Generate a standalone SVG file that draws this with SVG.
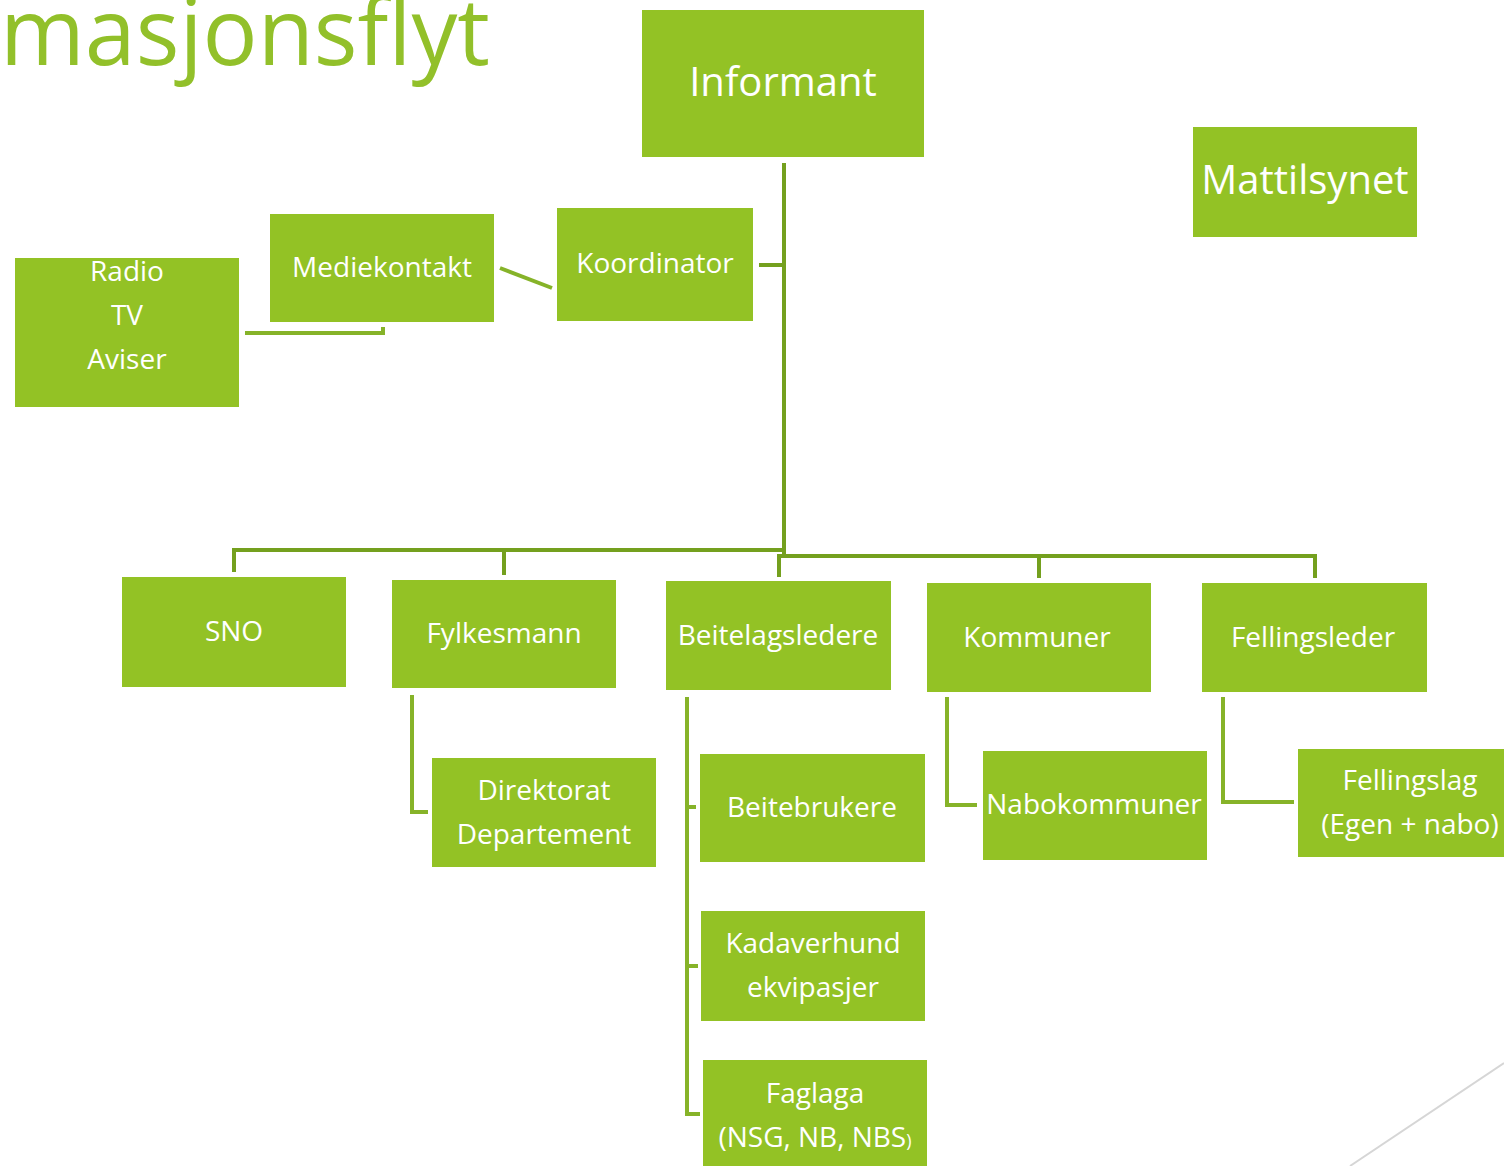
<svg xmlns="http://www.w3.org/2000/svg" width="1504" height="1166" viewBox="0 0 1504 1166">
<style>
.box{fill:#93C225;}
.t{fill:#FFFFFF;font-family:"Open Sans","DejaVu Sans",sans-serif;font-size:28px;text-anchor:middle;}
.tl{fill:#FFFFFF;font-family:"Open Sans","DejaVu Sans",sans-serif;font-size:40px;text-anchor:middle;}
.main{fill:none;stroke:#74A01E;stroke-width:4;}
.sub{fill:none;stroke:#86B329;stroke-width:4;}
</style>
<rect width="1504" height="1166" fill="#FFFFFF"/>
<text x="0" y="65" font-family="'Open Sans','DejaVu Sans',sans-serif" font-size="94" fill="#92C02A" textLength="490" lengthAdjust="spacingAndGlyphs">masjonsflyt</text>
<line x1="1350" y1="1166" x2="1504" y2="1063" stroke="#D6D6D6" stroke-width="2"/>
<g id="connectors">
<path class="main" d="M784,163 V555"/>
<path class="main" d="M759,265 H784"/>
<path class="main" d="M234,572 V550 H784"/>
<path class="main" d="M504,575 V552"/>
<path class="main" d="M779,577 V556 H1315 V578"/>
<path class="main" d="M1039,578 V557"/>
<path class="sub" d="M500,268 L552,288"/>
<path class="sub" d="M245,333 H383 V327"/>
<path class="sub" d="M412,695 V812 H428"/>
<path class="sub" d="M687,697 V1114 H700"/>
<path class="sub" d="M687,807 H696"/>
<path class="sub" d="M687,966 H698"/>
<path class="sub" d="M947,697 V805 H977"/>
<path class="sub" d="M1223,697 V802 H1294"/>
</g>
<g id="informant"><rect class="box" x="642" y="10" width="282" height="147"/><text class="tl" x="783" y="96">Informant</text></g>
<g id="mattilsynet"><rect class="box" x="1193" y="127" width="224" height="110"/><text class="tl" x="1305" y="194">Mattilsynet</text></g>
<g id="koordinator"><rect class="box" x="557" y="208" width="196" height="113"/><text class="t" x="655" y="273">Koordinator</text></g>
<g id="mediekontakt"><rect class="box" x="270" y="214" width="224" height="108"/><text class="t" x="382" y="277">Mediekontakt</text></g>
<g id="radio"><rect class="box" x="15" y="258" width="224" height="149"/><text class="t" x="127" y="281">Radio</text><text class="t" x="127" y="325">TV</text><text class="t" x="127" y="369">Aviser</text></g>
<g id="sno"><rect class="box" x="122" y="577" width="224" height="110"/><text class="t" x="234" y="641">SNO</text></g>
<g id="fylkesmann"><rect class="box" x="392" y="580" width="224" height="108"/><text class="t" x="504" y="643">Fylkesmann</text></g>
<g id="beitelagsledere"><rect class="box" x="666" y="581" width="225" height="109"/><text class="t" x="778" y="645">Beitelagsledere</text></g>
<g id="kommuner"><rect class="box" x="927" y="583" width="224" height="109"/><text class="t" x="1037" y="647">Kommuner</text></g>
<g id="fellingsleder"><rect class="box" x="1202" y="583" width="225" height="109"/><text class="t" x="1313" y="647">Fellingsleder</text></g>
<g id="direktorat"><rect class="box" x="432" y="758" width="224" height="109"/><text class="t" x="544" y="800">Direktorat</text><text class="t" x="544" y="844">Departement</text></g>
<g id="beitebrukere"><rect class="box" x="700" y="754" width="225" height="108"/><text class="t" x="812" y="817">Beitebrukere</text></g>
<g id="kadaverhund"><rect class="box" x="701" y="911" width="224" height="110"/><text class="t" x="813" y="953">Kadaverhund</text><text class="t" x="813" y="997">ekvipasjer</text></g>
<g id="faglaga"><rect class="box" x="703" y="1060" width="224" height="106"/><text class="t" x="815" y="1103">Faglaga</text><text class="t" x="815" y="1147">(NSG, NB, NBS<tspan font-size="18">)</tspan></text></g>
<g id="nabokommuner"><rect class="box" x="983" y="751" width="224" height="109"/><text class="t" x="1094" y="814">Nabokommuner</text></g>
<g id="fellingslag"><rect class="box" x="1298" y="749" width="210" height="108"/><text class="t" x="1410" y="790">Fellingslag</text><text class="t" x="1410" y="834">(Egen + nabo)</text></g>
</svg>
